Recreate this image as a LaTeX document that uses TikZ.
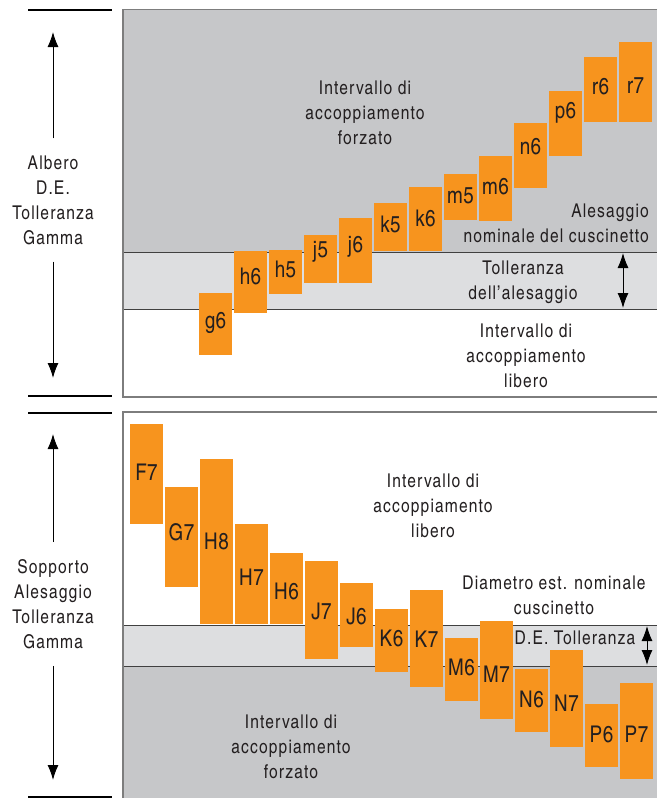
\documentclass[tikz,border=0pt]{standalone}
\usepackage{fontspec}
\setmainfont{texgyreheroscn-regular.otf}
\newfontfamily\descfont{texgyreheroscn-regular.otf}[LetterSpace=6]
\newfontfamily\labfont{texgyreheroscn-regular.otf}[LetterSpace=2]
\usetikzlibrary{arrows.meta}

\definecolor{forzgray}{RGB}{198,199,201}
\definecolor{tolgray}{RGB}{221,222,224}
\definecolor{tolorange}{RGB}{247,148,30}
\definecolor{framegray}{RGB}{125,125,125}
\definecolor{inkgray}{RGB}{35,31,32}

\tikzset{
  tolbox/.style={fill=tolorange, minimum width=33pt, inner sep=0pt},
  tollab/.style={font=\labfont\fontsize{23}{23}\selectfont, text=inkgray, inner sep=0pt},
  desc/.style={font=\descfont\fontsize{19}{25}\selectfont, text=inkgray, align=center, inner sep=0pt},
  side/.style={desc, inner xsep=0pt, inner ysep=17pt},
  bandline/.style={line width=1pt, black!75},
}

\begin{document}
\begin{tikzpicture}[x=1pt,y=-1pt,>={Latex[length=15pt,width=11pt]}]
  \useasboundingbox (0,0) rectangle (658,798);

  % albero (upper panel)
  \fill[forzgray] (123,9.5) rectangle (657,252);
  \fill[tolgray]  (123,252) rectangle (657,309);
  \draw[bandline] (123,252) -- (657,252) (123,309) -- (657,309);

  \foreach \lab/\xl/\yt/\yb/\yl in {g6/199/293/355/323, h6/234/251/313/276,
      h5/269/250/294/269, j5/304/235/283/252, j6/339/218/283/247,
      k5/374/203/251/224, k6/409/187/251/218, m5/444/174/220/196,
      m6/479/156/221/187, n6/514/123/188/147, p6/549/91/156/113,
      r6/584/57/122/87, r7/619/42/122/86}
  {
    \node[tolbox, minimum height={(\yb-\yt)*1pt}] (\lab) at ({\xl+16.5},{(\yt+\yb)/2}) {};
    \node[tollab] (\lab-txt) at ({\xl+16.5},\yl) {\lab};
  }

  \draw[framegray, line width=1.2pt] (657,9.5) -- (123,9.5) -- (123,397) -- (657,397);

  \node[desc] (forzTop) at (365,113) {Intervallo di\\accoppiamento\\forzato};
  \node[desc, align=right, anchor=east] (alesNom) at (649,223) {Alesaggio\\nominale del cuscinetto};
  \node[desc] (tolAles) at (523,282) {Tolleranza\\dell’alesaggio};
  \node[desc] (liberoTop) at (526,356) {Intervallo di\\accoppiamento\\libero};

  \coordinate (tolAlesTop) at (623,253);
  \coordinate (tolAlesBot) at (623,308);
  \draw[<->, line width=1pt] (tolAlesTop) -- (tolAlesBot);

  \node[side] (albero) at (53,200) {Albero\\D.E.\\Tolleranza\\Gamma};
  \coordinate (alberoUp) at (53,32);
  \coordinate (alberoDown) at (53,378);
  \draw[->, line width=1pt] (albero) -- (alberoUp);
  \draw[->, line width=1pt] (albero) -- (alberoDown);
  \draw[line width=2pt] (28,10) -- (112,10) (28,396) -- (112,396);

  % sopporto (lower panel)
  \fill[tolgray]  (123,625) rectangle (657,666);
  \fill[forzgray] (123,666) rectangle (657,798);
  \draw[bandline] (123,625) -- (657,625) (123,666) -- (657,666);

  \foreach \lab/\xl/\yt/\yb/\yl in {F7/130/424/524/472, G7/165/487/587/532,
      H8/200/459/624/541, H7/235/524/624/577, H6/270/553/624/591,
      J7/305/561/659/611, J6/340/583/647/616, K6/375/609/672/638,
      K7/410/590/687/639, M6/445/638/701/667, M7/480/621/719/674,
      N6/515/669/732/699, N7/550/650/747/703, P6/585/704/767/734,
      P7/620/683/779/734}
  {
    \node[tolbox, minimum height={(\yb-\yt)*1pt}] (\lab) at ({\xl+16.5},{(\yt+\yb)/2}) {};
    \node[tollab] (\lab-txt) at ({\xl+16.5},\yl) {\lab};
  }

  \draw[framegray, line width=1.2pt] (657,412) -- (123,412) -- (123,798);

  \node[desc] (liberoBot) at (433,506) {Intervallo di\\accoppiamento\\libero};
  \node[desc] (diamEst) at (554,595) {Diametro est. nominale\\cuscinetto};
  \node[desc] (deTol) at (575,638) {D.E. Tolleranza};
  \node[desc] (forzBot) at (291,747) {Intervallo di\\accoppiamento\\forzato};

  \coordinate (deTolTop) at (647,626);
  \coordinate (deTolBot) at (647,665);
  \draw[<->, line width=1pt] (deTolTop) -- (deTolBot);

  \node[side] (sopporto) at (53,604) {Sopporto\\Alesaggio\\Tolleranza\\Gamma};
  \coordinate (sopportoUp) at (53,434);
  \coordinate (sopportoDown) at (53,780);
  \draw[->, line width=1pt] (sopporto) -- (sopportoUp);
  \draw[->, line width=1pt] (sopporto) -- (sopportoDown);
  \draw[line width=2pt] (28,413) -- (112,413) (28,797) -- (112,797);
\end{tikzpicture}
\end{document}
